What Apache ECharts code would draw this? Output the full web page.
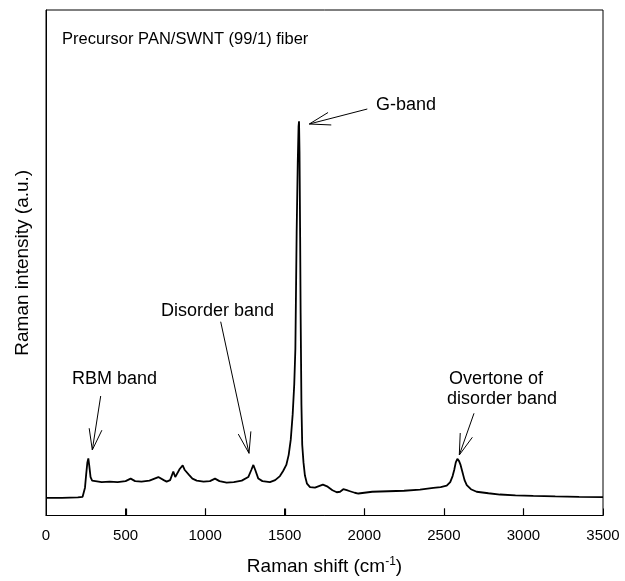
<!DOCTYPE html>
<html>
<head>
<meta charset="utf-8">
<script src="https://cdn.jsdelivr.net/npm/echarts@6/dist/echarts.min.js"></script>
<style>
html,body{margin:0;padding:0;background:#fff;}
#chart{width:625px;height:581px;}
</style>
</head>
<body>
<div id="chart"></div>
<script>
// Raman shift (cm-1)
var shift = [0,100,200,230,245,252,260,266,272,280,290,310,350,400,450,500,532,560,600,650,706,740,758,780,800,812,821,840,859,872,884,900,920,947,990,1030,1062,1090,1135,1180,1230,1271,1290,1303,1315,1334,1360,1407,1440,1470,1490,1510,1525,1538,1550,1560,1567,1575,1582,1587,1590,1593,1597,1600,1605,1610,1618,1627,1640,1659,1690,1715,1740,1770,1800,1827,1848,1868,1890,1910,1940,1963,1973,2050,2150,2250,2350,2434,2480,2518,2540,2555,2565,2575,2585,2595,2605,2615,2630,2644,2670,2706,2780,2853,2950,3062,3200,3350,3500];
// Raman intensity (a.u.)
var intensity = [3.5,3.5,3.6,3.7,5.5,8,10.5,11.3,9.8,7.6,6.9,6.8,6.6,6.7,6.6,6.8,7.3,6.8,6.7,6.9,7.6,7.0,6.7,7.0,8.7,7.6,7.6,9.2,9.9,9.0,8.9,8.0,7.3,6.9,6.7,6.8,7.3,6.8,6.5,6.6,6.9,7.6,9.0,10.0,9.0,7.3,6.8,6.6,7.0,7.8,8.8,10.0,12,15,20,26,33,56,70,77,78,72,55,40,22,14,10.5,7.9,6.3,5.6,5.5,5.8,6.1,5.7,5.0,4.6,4.7,5.2,5.0,4.8,4.5,4.35,4.7,4.7,4.8,4.9,5.1,5.45,5.6,5.9,6.6,7.8,9.0,10.5,11.2,10.8,10.0,8.8,7.0,6.0,5.2,4.7,4.4,4.15,4.0,3.9,3.8,3.7,3.65];
var xTicks = [0,500,1000,1500,2000,2500,3000,3500];
var titleText = 'Precursor PAN/SWNT (99/1) fiber';
var labels = ['RBM band','Disorder band','G-band','Overtone of','disorder band'];

var FONT = 'Liberation Sans, Arial, sans-serif';
var data = shift.map(function(x,i){return [x,intensity[i]];});

function arrow(x1,y1,x2,y2){
  var dx=x1-x2, dy=y1-y2, len=Math.sqrt(dx*dx+dy*dy);
  var ux=dx/len, uy=dy/len, L=22, a=17*Math.PI/180;
  var c=Math.cos(a), s=Math.sin(a);
  var b1=[x2+L*(ux*c-uy*s), y2+L*(ux*s+uy*c)];
  var b2=[x2+L*(ux*c+uy*s), y2+L*(-ux*s+uy*c)];
  return [
    {type:'line',silent:true,shape:{x1:x1,y1:y1,x2:x2,y2:y2},style:{stroke:'#000',lineWidth:1}},
    {type:'polyline',silent:true,shape:{points:[b1,[x2,y2],b2]},style:{stroke:'#000',lineWidth:1,fill:null}}
  ];
}
function txt(t,x,y,size){
  return {type:'text',silent:true,x:x,y:y,style:{text:t,fill:'#000',font:size+'px '+FONT,textAlign:'left',textVerticalAlign:'middle'}};
}
var g = [];
g.push(txt(titleText,62,39,16.5));
g.push(txt(labels[0],72,379,18));
g.push(txt(labels[1],161,311,18));
g.push(txt(labels[2],376,105,18));
g.push(txt(labels[3],449,379,18));
g.push(txt(labels[4],447,399,18));
g = g.concat(arrow(100.7,396,92.3,450));
g = g.concat(arrow(220.7,321.7,249,453.3));
g = g.concat(arrow(367.3,109,309.3,124));
g = g.concat(arrow(474,413.3,459.3,455));

var chart = echarts.init(document.getElementById('chart'), null, {renderer:'canvas'});
chart.setOption({
  animation:false,
  backgroundColor:'#fff',
  grid:{left:46,right:22,top:10,bottom:57,show:true,borderColor:'#000',borderWidth:1,backgroundColor:'transparent'},
  xAxis:{
    type:'value',min:xTicks[0],max:xTicks[xTicks.length-1],interval:xTicks[1]-xTicks[0],
    axisLine:{lineStyle:{color:'#000',width:1}},
    axisTick:{show:true,inside:true,length:7,lineStyle:{color:'#000',width:1}},
    splitLine:{show:false},
    axisLabel:{color:'#000',fontSize:15,fontFamily:FONT,margin:13,formatter:function(v){return String(v);}},
    name:'Raman shift (cm{sup|-1})',nameLocation:'middle',nameGap:40,
    nameTextStyle:{color:'#000',fontSize:19,fontFamily:FONT,rich:{sup:{fontSize:12,fontFamily:FONT,color:'#000',verticalAlign:'top',padding:[0,0,10,0]}}}
  },
  yAxis:{
    type:'value',min:0,max:100,
    axisLine:{show:true,lineStyle:{color:'#000',width:1}},
    axisTick:{show:false},axisLabel:{show:false},splitLine:{show:false},
    name:'Raman intensity (a.u.)',nameLocation:'middle',nameGap:14,
    nameTextStyle:{color:'#000',fontSize:19,fontFamily:FONT}
  },
  series:[{type:'line',data:data,showSymbol:false,lineStyle:{color:'#000',width:1.8},silent:true}]
});

// inward ticks placed through the axis scale
var ticks = xTicks.slice(1,-1).map(function(t){
  var p = chart.convertToPixel({xAxisIndex:0,yAxisIndex:0},[t,0]);
  var x = Math.round(p[0])+0.5;
  return {type:'line',silent:true,z:100,shape:{x1:x,y1:p[1],x2:x,y2:p[1]-7},style:{stroke:'#000',lineWidth:1.2}};
});
chart.setOption({graphic:g.concat(ticks)});
</script>
</body>
</html>
